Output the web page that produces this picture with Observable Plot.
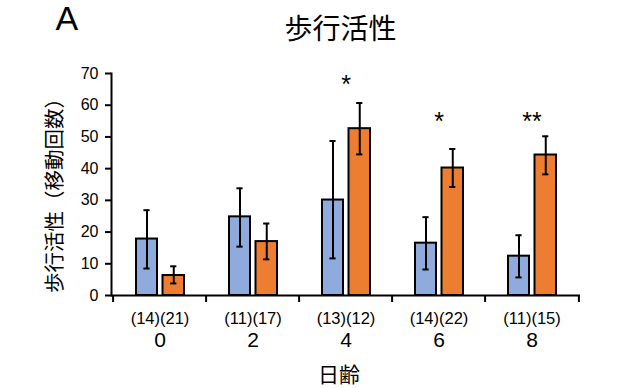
<!DOCTYPE html>
<html>
<head>
<meta charset="utf-8">
<script src="https://cdn.jsdelivr.net/npm/d3@7"></script>
<script src="https://cdn.jsdelivr.net/npm/@observablehq/plot@0.6"></script>
<style>
  html, body { margin: 0; padding: 0; background: #fff; }
  #chart svg { display: block; }
</style>
</head>
<body>
<div id="chart"></div>
<script>
// ---- data ----
const days = ["0", "2", "4", "6", "8"];
const counts = ["(14)(21)", "(11)(17)", "(13)(12)", "(14)(22)", "(11)(15)"];
const blueMean = [17.8, 24.8, 30.1, 16.5, 12.4];
const blueHigh = [26.9, 33.8, 48.7, 24.7, 19.0];
const blueLow  = [8.5, 15.4, 11.7, 8.2, 5.7];
const orangeMean = [6.3, 17.0, 52.6, 40.2, 44.3];
const orangeHigh = [9.2, 22.7, 60.7, 46.2, 50.2];
const orangeLow  = [3.8, 11.4, 44.5, 34.2, 38.2];
const starDays = ["4", "6", "8"];
const starLabels = ["*", "*", "**"];
const starY = [68.5, 56.8, 56.8];
const yTicks = [0, 10, 20, 30, 40, 50, 60, 70];
const title = "歩行活性";
const yLabel = "歩行活性（移動回数）";
const xLabel = "日齢";
const panel = "A";

// ---- layout ----
const W = 639, H = 388;
const mL = 111, mR = 59, mT = 73, mB = 93;
const bw = (W - mL - mR) / days.length; // band width

const blue = days.map((d, i) => ({day: d, v: blueMean[i], lo: blueLow[i], hi: blueHigh[i]}));
const orange = days.map((d, i) => ({day: d, v: orangeMean[i], lo: orangeLow[i], hi: orangeHigh[i]}));
const nTable = days.map((d, i) => ({day: d, n: counts[i]}));
const stars = starDays.map((d, i) => ({day: d, s: starLabels[i], y: starY[i]}));

const font = "'Liberation Sans', Arial, 'Noto Sans CJK JP', sans-serif";
const cjk = "'Noto Sans CJK JP', sans-serif";

// bar insets within each band
const bL = 23, bR = 49;      // blue bar
const oL = 49.5, oR = 22;    // orange bar
const blueC = bL + (bw - bL - bR) / 2 - bw / 2;
const orangeC = oL + (bw - oL - oR) / 2 - bw / 2;
const cap = 3.5;

const chart = Plot.plot({
  width: W,
  height: H,
  marginLeft: mL,
  marginRight: mR,
  marginTop: mT,
  marginBottom: mB,
  style: {fontFamily: font, background: "#fff", color: "#000", overflow: "visible"},
  x: {domain: days, padding: 0, axis: null, label: null},
  y: {domain: [0, 70], axis: null, label: null},
  marks: [
    // bars
    Plot.barY(blue, {x: "day", y: "v", fill: "#8FAADC", stroke: "#000", strokeWidth: 2, insetLeft: bL, insetRight: bR}),
    Plot.barY(orange, {x: "day", y: "v", fill: "#ED7D31", stroke: "#000", strokeWidth: 2, insetLeft: oL, insetRight: oR}),
    // error bars
    Plot.ruleX(blue, {x: "day", y1: "lo", y2: "hi", stroke: "#000", strokeWidth: 2, dx: blueC}),
    Plot.ruleX(orange, {x: "day", y1: "lo", y2: "hi", stroke: "#000", strokeWidth: 2, dx: orangeC}),
    Plot.tickY(blue, {x: "day", y: "hi", stroke: "#000", strokeWidth: 2, insetLeft: bw / 2 + blueC - cap, insetRight: bw / 2 - blueC - cap}),
    Plot.tickY(blue, {x: "day", y: "lo", stroke: "#000", strokeWidth: 2, insetLeft: bw / 2 + blueC - cap, insetRight: bw / 2 - blueC - cap}),
    Plot.tickY(orange, {x: "day", y: "hi", stroke: "#000", strokeWidth: 2, insetLeft: bw / 2 + orangeC - cap, insetRight: bw / 2 - orangeC - cap}),
    Plot.tickY(orange, {x: "day", y: "lo", stroke: "#000", strokeWidth: 2, insetLeft: bw / 2 + orangeC - cap, insetRight: bw / 2 - orangeC - cap}),
    // axes lines
    Plot.ruleY([0], {stroke: "#000", strokeWidth: 2}),
    Plot.frame({anchor: "left", stroke: "#000", strokeWidth: 2}),
    // x tick marks at band boundaries
    Plot.ruleX(days, {x: d => d, dx: -bw / 2, y1: () => 0, y2: () => 0, stroke: "#000", strokeWidth: 2, insetBottom: -7}),
    Plot.ruleX([days[days.length - 1]], {x: d => d, dx: bw / 2, y1: () => 0, y2: () => 0, stroke: "#000", strokeWidth: 2, insetBottom: -7}),
    // y axis
    Plot.axisY({ticks: yTicks, tickSize: 6, tickPadding: 7, fontSize: 16, strokeWidth: 2, tickFormat: d => String(d), label: null}),
    // x axis labels
    Plot.axisX({tickSize: 0, tickPadding: 37, fontSize: 21, label: null}),
    // sample sizes
    Plot.text(nTable, {x: "day", text: "n", frameAnchor: "bottom", dy: 23, fontSize: 16.5, lineAnchor: "middle"}),
    // significance stars
    Plot.text(stars, {x: "day", y: "y", text: "s", fontSize: 25, dy: 6.5, lineAnchor: "middle"}),
    // axis titles
    Plot.text([xLabel], {frameAnchor: "bottom", dy: 80, dx: -7, fontSize: 21, fontFamily: cjk, lineAnchor: "middle"}),
    Plot.text([yLabel], {frameAnchor: "left", textAnchor: "middle", rotate: -90, dx: -56, dy: 6, fontSize: 20.5, fontFamily: cjk, lineAnchor: "middle"}),
    // title and panel letter
    Plot.text([title], {frameAnchor: "top", dx: -5.5, dy: -43, fontSize: 28, fontFamily: cjk, lineAnchor: "middle", letterSpacing: "4px"}),
    Plot.text([panel], {frameAnchor: "top-left", dx: -56, dy: -54, fontSize: 34, textAnchor: "start", lineAnchor: "middle"})
  ]
});
document.getElementById("chart").appendChild(chart);
</script>
</body>
</html>
